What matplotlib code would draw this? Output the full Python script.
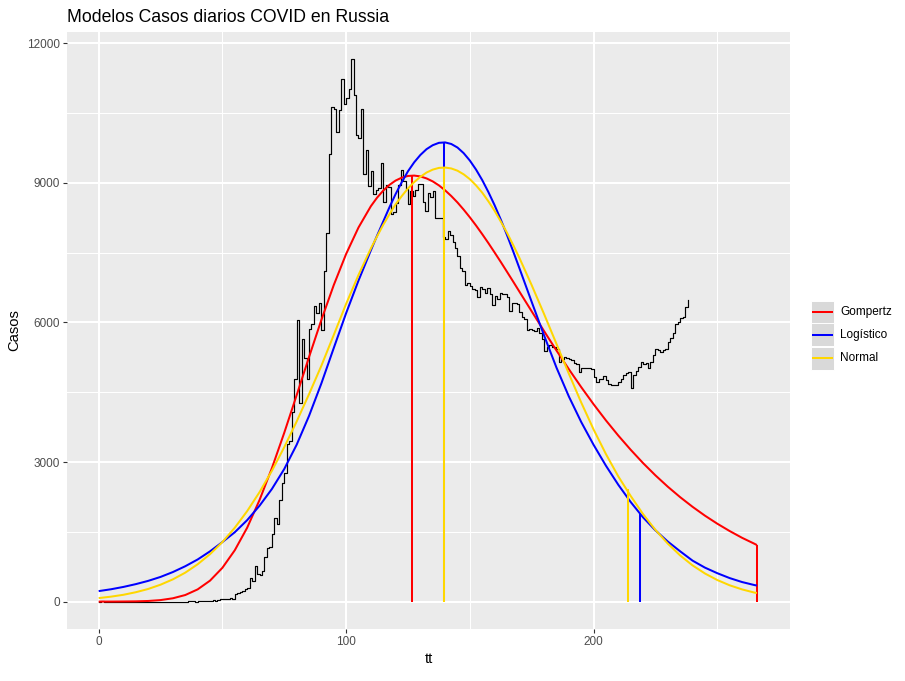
import numpy as np
import matplotlib
matplotlib.use("Agg")
import matplotlib.pyplot as plt
from matplotlib.patches import Rectangle
from matplotlib.lines import Line2D

plt.rcParams['font.family'] = ['Liberation Sans', 'DejaVu Sans']

# daily cases (one value per day, day 0 .. 238)
cases = [
    0, 2, 0, 0, 0, 0, 0, 0, 0, 0,
    0, 0, 0, 0, 0, 0, 0, 0, 0, 0,
    0, 0, 0, 0, 0, 0, 0, 0, 0, 0,
    0, 0, 1, 0, 0, 1, 6, 4, 3, 0,
    3, 8, 6, 11, 14, 4, 30, 21, 33, 52,
    54, 53, 61, 71, 57, 163, 182, 196, 228, 270,
    302, 501, 440, 771, 601, 582, 658, 954, 1154, 1175,
    1459, 1786, 1667, 2186, 2558, 2774, 3388, 3448, 4070, 4785,
    6060, 4268, 5642, 5236, 4774, 5849, 5966, 6361, 6198, 6411,
    5841, 7099, 7933, 9623, 10633, 10581, 10102, 10559, 11231, 10699,
    10817, 11012, 11656, 10899, 10028, 9974, 10598, 9200, 9709, 8926,
    9263, 8764, 8849, 8894, 9434, 8599, 8946, 8915, 8338, 8371,
    8572, 8952, 9268, 9035, 8863, 8536, 8831, 8726, 8855, 8984,
    8985, 8595, 8404, 8779, 8706, 8835, 8246, 8248, 8246, 7843,
    7790, 7972, 7889, 7728, 7600, 7425, 7176, 7113, 6800, 6852,
    6791, 6719, 6693, 6556, 6760, 6718, 6632, 6736, 6611, 6368,
    6562, 6509, 6635, 6611, 6615, 6537, 6248, 6422, 6428, 6406,
    6214, 6109, 6065, 5842, 5862, 5848, 5811, 5871, 5765, 5635,
    5395, 5475, 5509, 5482, 5462, 5427, 5159, 5204, 5267, 5241,
    5212, 5189, 5118, 5102, 4930, 5030, 5030, 5030, 5020, 5000,
    4820, 4730, 4780, 4780, 4840, 4770, 4680, 4650, 4650, 4660,
    4720, 4780, 4870, 4910, 4940, 4600, 4871, 4957, 5050, 5143,
    5107, 5122, 5014, 5157, 5300, 5422, 5408, 5365, 5408, 5422,
    5586, 5671, 5778, 5964, 6014, 6086, 6107, 6336, 6479,
]

# model curves, read every 5 days (every 2.5 days around the peaks)
model_days = [0, 5, 10, 15, 20, 25, 30, 35, 40, 45, 50, 55, 60, 65, 70, 75, 80,
              85, 90, 95, 100, 105, 110, 112.5, 115, 117.5, 120, 122.5, 125,
              127.5, 130, 132.5, 135, 137.5, 140, 142.5, 145, 147.5, 150, 152.5,
              155, 157.5, 160, 162.5, 165, 167.5, 170, 175, 180, 185, 190, 195,
              200, 205, 210, 215, 220, 225, 230, 235, 240, 245, 250, 255, 260,
              265, 266]

gompertz = [0, 0, 2, 5, 13, 32, 71, 141, 262, 450, 726, 1103, 1587, 2182, 2868,
            3629, 4436, 5255, 6055, 6803, 7472, 8041, 8499, 8682, 8834, 8957,
            9050, 9113, 9149, 9157, 9139, 9096, 9032, 8946, 8840, 8717, 8579,
            8425, 8260, 8084, 7898, 7705, 7504, 7300, 7090, 6879, 6665, 6238,
            5814, 5397, 4996, 4610, 4242, 3894, 3568, 3263, 2977, 2713, 2469,
            2244, 2037, 1847, 1674, 1516, 1371, 1243, 1215]

logistico = [225, 265, 315, 375, 445, 530, 635, 760, 905, 1080, 1280, 1490, 1750,
             2060, 2420, 2850, 3370, 3990, 4690, 5450, 6200, 6900, 7550, 7865,
             8170, 8475, 8760, 9017, 9250, 9442, 9600, 9725, 9810, 9861, 9870,
             9836, 9760, 9639, 9480, 9286, 9060, 8802, 8520, 8211, 7880, 7530,
             7170, 6440, 5720, 5030, 4410, 3860, 3370, 2920, 2510, 2140, 1810,
             1530, 1290, 1080, 880, 730, 610, 505, 420, 355, 345]

normal = [75, 106, 146, 201, 271, 363, 478, 622, 802, 1019, 1279, 1587, 1944,
          2352, 2811, 3319, 3870, 4457, 5070, 5730, 6400, 7020, 7590, 7850, 8100,
          8325, 8540, 8718, 8880, 9017, 9130, 9222, 9285, 9322, 9330, 9310, 9262,
          9184, 9080, 8946, 8790, 8603, 8400, 8169, 7930, 7665, 7390, 6800, 6180,
          5540, 4900, 4280, 3700, 3170, 2690, 2270, 1880, 1540, 1246, 991, 778,
          604, 463, 350, 262, 193, 185]

# vertical markers: (day, top value) per model
gompertz_marks = [(126.6, 9157), (266, 1215)]
logistico_marks = [(139.5, 9870), (218.6, 1900)]
normal_marks = [(139.5, 9330), (213.9, 2420)]

labels = ['Gompertz', 'Logístico', 'Normal']
colors = ['#FF0000', '#0000FF', '#FFD700']

W, H = 905, 681
fig = plt.figure(figsize=(W / 100, H / 100), dpi=100)

def fx(px):
    return px / W

def fy(py):
    return 1 - py / H

left, right, top, bottom = 67, 790.3, 32.2, 628.7
ax = fig.add_axes([fx(left), fy(bottom), fx(right) - fx(left), fy(top) - fy(bottom)])
ax.set_facecolor('#EBEBEB')
for s in ax.spines.values():
    s.set_visible(False)

days = np.arange(len(cases))
ax.step(days, cases, where='post', color='black', lw=0.85, zorder=2)

series = [(gompertz, gompertz_marks), (logistico, logistico_marks), (normal, normal_marks)]
for (vals, marks), col in zip(series, colors):
    ax.plot(model_days, vals, color=col, lw=1.45, zorder=3, solid_capstyle='butt')
    for d, v in marks:
        ax.plot([d, d], [0, v], color=col, lw=1.45, zorder=3, solid_capstyle='butt')

ax.set_xlim(-12.8, 279.5)
ax.set_ylim(-583, 12239)

ax.set_xticks([0, 100, 200])
ax.set_xticks([50, 150, 250], minor=True)
ax.set_yticks([0, 3000, 6000, 9000, 12000])
ax.set_yticks([1500, 4500, 7500, 10500], minor=True)
ax.grid(which='major', color='white', lw=1.45, zorder=0)
ax.grid(which='minor', color='white', lw=0.72, zorder=0)
ax.set_axisbelow(True)
ax.tick_params(which='major', length=2.7, width=0.8, color='#333333',
               labelcolor='#4D4D4D', labelsize=8.5, pad=2.2)
ax.tick_params(which='minor', length=0)

ax.set_xlabel('tt', fontsize=10.6, labelpad=3)
ax.set_ylabel('Casos', fontsize=10.6, labelpad=4)

fig.text(fx(67), fy(22), 'Modelos Casos diarios COVID en Russia',
         fontsize=12.7, ha='left', va='baseline')

# legend drawn by hand to match key boxes
key_x0, key_w, key_h = 811, 23, 23
key_tops = [300.5, 323.5, 346.5]
for lab, col, ktop in zip(labels, colors, key_tops):
    fig.add_artist(Rectangle((fx(key_x0), fy(ktop + key_h)), key_w / W, key_h / H,
                             transform=fig.transFigure, facecolor='#D9D9D9',
                             edgecolor='white', lw=0.7))
    yc = fy(ktop + key_h / 2)
    fig.add_artist(Line2D([fx(key_x0 + 2), fx(key_x0 + key_w - 2)], [yc, yc],
                          transform=fig.transFigure, color=col, lw=1.45))
    fig.text(fx(key_x0 + key_w + 6), yc, lab, fontsize=8.5, ha='left', va='center')

fig.savefig('out.png', dpi=100)
